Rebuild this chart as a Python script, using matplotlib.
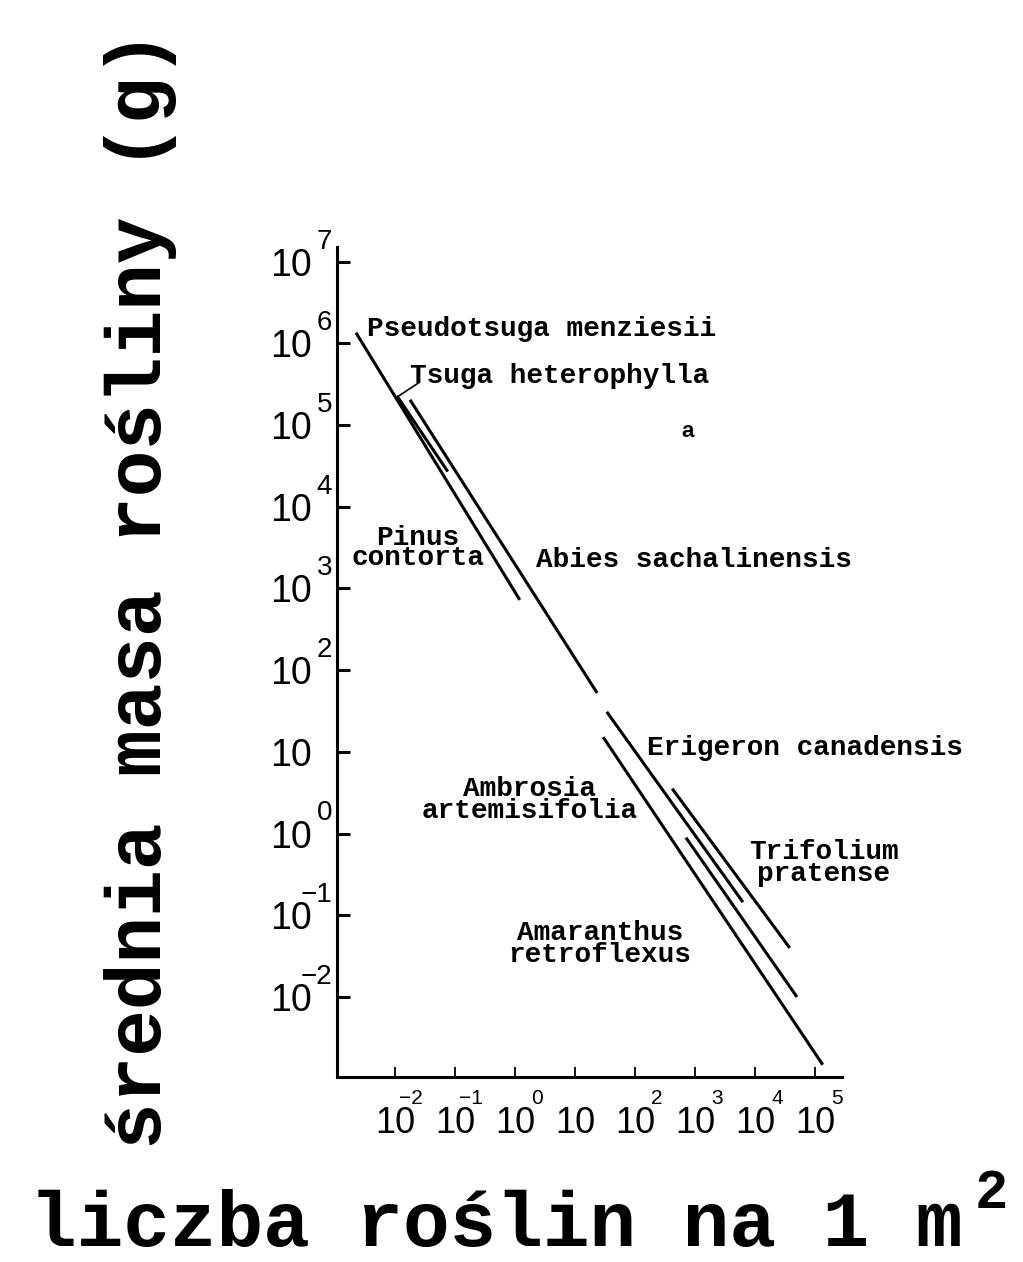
import matplotlib
matplotlib.use("Agg")
import matplotlib.pyplot as plt

# self-thinning lines, log10 of density (plants / m2) and log10 of mean mass (g)
species = ["Pseudotsuga menziesii", "Tsuga heterophylla", "Abies sachalinensis",
           "Erigeron canadensis", "Trifolium pratense", "Amaranthus retroflexus",
           "Ambrosia artemisifolia"]
log_n_start = [-2.65, -1.97, -1.75, 1.53, 2.62, 1.47, 2.85]
log_n_end = [0.08, -1.12, 1.37, 3.80, 4.58, 5.13, 4.70]
log_m_start = [6.13, 5.36, 5.31, 1.49, 0.55, 1.18, -0.05]
log_m_end = [2.86, 4.43, 1.72, -0.84, -1.40, -2.83, -2.00]

x_tick_exp = [-2, -1, 0, 1, 2, 3, 4, 5]
y_tick_exp = [-2, -1, 0, 1, 2, 3, 4, 5, 6, 7]

label_text = ["Pseudotsuga menziesii", "Tsuga heterophylla", "Pinus\ncontorta",
              "Abies sachalinensis", "Erigeron canadensis", "Ambrosia\nartemisifolia",
              "Trifolium\npratense", "Amaranthus\nretroflexus"]

mono = "Liberation Mono"
sans = "Liberation Sans"

fig = plt.figure(figsize=(10.23, 12.62), dpi=100)
fig.patch.set_facecolor("white")
ax = fig.add_axes([0.3294, 0.1466, 0.4936, 0.6577])
ax.set_xscale("log")
ax.set_yscale("log")
ax.set_xlim(10 ** -2.967, 10 ** 5.45)
ax.set_ylim(10 ** -2.98, 10 ** 7.18)

for i in range(len(species)):
    ax.plot([10 ** log_n_start[i], 10 ** log_n_end[i]],
            [10 ** log_m_start[i], 10 ** log_m_end[i]],
            color="black", lw=2.2, solid_capstyle="butt")

# leader line to the Tsuga label
ax.plot([10 ** -1.6, 10 ** -1.93], [10 ** 5.52, 10 ** 5.36], color="black", lw=1.2)

# label placement (log10 x, log10 y, alignment, line spacing)
label_pos = [(-2.467, 6.17, "left", 1.0), (-1.75, 5.60, "left", 1.0),
             (-1.62, 3.49, "center", 0.7), (0.35, 3.35, "left", 1.0),
             (2.2, 1.05, "left", 1.0), (0.25, 0.41, "center", 0.82),
             (5.15, -0.36, "center", 0.82), (1.42, -1.35, "center", 0.82)]
for txt, (lx, ly, ha, ls) in zip(label_text, label_pos):
    ax.text(10 ** lx, 10 ** ly, txt, ha=ha, va="center", multialignment="center",
            fontsize=20, family=mono, fontweight="bold", linespacing=ls)

# stray mark on the scan
ax.text(10 ** 2.88, 10 ** 4.92, "a", ha="center", va="center", fontsize=16,
        family=sans, fontweight="bold")

for s in ["top", "right"]:
    ax.spines[s].set_visible(False)
for s in ["left", "bottom"]:
    ax.spines[s].set_linewidth(2.2)

ax.minorticks_off()
ax.set_xticks([10.0 ** e for e in x_tick_exp])
ax.set_xticklabels(["10"] * len(x_tick_exp), family=sans, fontsize=26)
ax.set_yticks([10.0 ** e for e in y_tick_exp])
ax.set_yticklabels(["10"] * len(y_tick_exp), family=sans, fontsize=27)
ax.tick_params(axis="x", direction="in", length=7, width=1.3, pad=21)
ax.tick_params(axis="y", direction="in", length=9, width=2.2, pad=18)

xtr = ax.get_xaxis_transform()
for e in x_tick_exp:
    if e == 1:
        continue
    ax.annotate(str(e).replace("-", "\u2212"), xy=(10.0 ** e, 0), xycoords=xtr,
                xytext=(20, -19.5), textcoords="offset points", ha="right",
                va="baseline", fontsize=15, family=sans)

ytr = ax.get_yaxis_transform()
for e in y_tick_exp:
    if e == 1:
        continue
    ax.annotate(str(e).replace("-", "\u2212"), xy=(0, 10.0 ** e), xycoords=ytr,
                xytext=(-3.6, 9.4), textcoords="offset points", ha="right",
                va="baseline", fontsize=20, family=sans)

fig.text(0.137, 0.5325, "średnia masa rośliny (g)", rotation=90, ha="center",
         va="center", fontsize=56, family=mono, fontweight="bold")
fig.text(0.029, 1 - 1246 / 1262, "liczba roślin na 1 m", ha="left", va="baseline",
         fontsize=56, family=mono, fontweight="bold")
fig.text(0.953, 1 - 1208 / 1262, "2", ha="left", va="baseline",
         fontsize=40, family=mono, fontweight="bold")

fig.savefig("out.png", dpi=100, facecolor="white")
